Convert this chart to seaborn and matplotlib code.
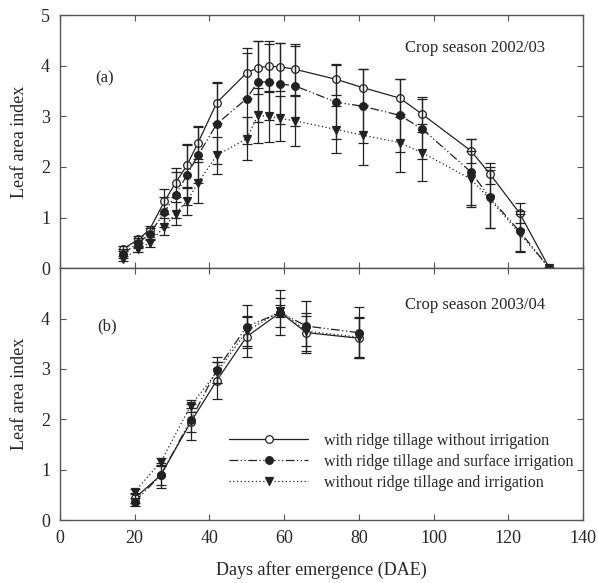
import numpy as np
import pandas as pd
import matplotlib
matplotlib.use("Agg")
import matplotlib.pyplot as plt
import seaborn as sns

# Crop season 2002/03 (panel a)
dae_a = [17, 21, 24, 28, 31, 34, 37, 42, 50, 53, 56, 59, 63, 74, 81, 91, 97, 110, 115, 123, 131]
lai_a_ridge = [0.38, 0.57, 0.76, 1.32, 1.69, 2.03, 2.48, 3.27, 3.86, 3.96, 3.99, 3.98, 3.93, 3.73, 3.57, 3.36, 3.04, 2.32, 1.87, 1.09, 0.0]
err_a_ridge = [0.05, 0.07, 0.08, 0.25, 0.28, 0.42, 0.32, 0.40, 0.50, 0.52, 0.50, 0.47, 0.50, 0.30, 0.36, 0.37, 0.35, 0.24, 0.20, 0.19, 0.0]
lai_a_irr = [0.29, 0.50, 0.67, 1.11, 1.45, 1.84, 2.23, 2.85, 3.35, 3.68, 3.68, 3.64, 3.60, 3.28, 3.20, 3.02, 2.75, 1.90, 1.40, 0.73, 0.0]
err_a_irr = [0.08, 0.10, 0.12, 0.30, 0.45, 0.60, 0.55, 0.80, 0.90, 0.80, 0.75, 0.80, 0.80, 0.73, 0.73, 0.72, 0.60, 0.66, 0.60, 0.40, 0.0]
lai_a_none = [0.19, 0.37, 0.50, 0.82, 1.08, 1.32, 1.69, 2.23, 2.56, 3.02, 3.00, 2.96, 2.91, 2.74, 2.63, 2.48, 2.28, 1.76, 1.37, 0.69, 0.0]
err_a_none = [0.05, 0.05, 0.08, 0.17, 0.23, 0.27, 0.40, 0.36, 0.42, 0.55, 0.50, 0.45, 0.50, 0.47, 0.60, 0.57, 0.56, 0.55, 0.57, 0.38, 0.0]

# Crop season 2003/04 (panel b)
dae_b = [20, 27, 35, 42, 50, 59, 66, 80]
lai_b_ridge = [0.43, 0.89, 1.94, 2.77, 3.64, 4.12, 3.72, 3.61]
err_b_ridge = [0.10, 0.25, 0.36, 0.36, 0.40, 0.45, 0.40, 0.40]
lai_b_irr = [0.36, 0.89, 1.98, 2.98, 3.84, 4.12, 3.85, 3.72]
err_b_irr = [0.08, 0.20, 0.24, 0.26, 0.42, 0.28, 0.50, 0.50]
lai_b_none = [0.56, 1.15, 2.27, 2.93, 3.75, 4.15, 3.75, 3.63]
err_b_none = [0.05, 0.08, 0.12, 0.20, 0.30, 0.12, 0.30, 0.40]

labels = ["with ridge tillage without irrigation",
          "with ridge tillage and surface irrigation",
          "without ridge tillage and irrigation"]

sns.set_style("ticks")
plt.rcParams['font.family'] = ['Liberation Serif', 'DejaVu Serif']

fig = plt.figure(figsize=(5.98, 5.83), dpi=100)
ax_a = fig.add_axes([0.100, 0.540, 0.875, 0.434])
ax_b = fig.add_axes([0.100, 0.108, 0.875, 0.432])

line_col = "#222222"
styles = [
    dict(marker="o", mfc="white", dashes=None),
    dict(marker="o", mfc=line_col, dashes=(7, 2, 1, 2, 1, 2)),
    dict(marker="v", mfc=line_col, dashes=(1, 2)),
]


def draw_panel(ax, x, series, errs):
    for lai, err, lab, st in zip(series, errs, labels, styles):
        df = pd.DataFrame({"DAE": x, "LAI": lai})
        sns.lineplot(data=df, x="DAE", y="LAI", ax=ax, color=line_col, lw=0.9,
                     marker=st["marker"], markersize=5.5, markerfacecolor=st["mfc"],
                     markeredgecolor=line_col, markeredgewidth=0.9,
                     label=lab, legend=False)
        if st["dashes"] is not None:
            ax.lines[-1].set_dashes(st["dashes"])
        ax.errorbar(x, lai, yerr=err, fmt="none", ecolor=line_col, elinewidth=0.9,
                    capsize=3.5, capthick=0.9)
    ax.set_xlim(0, 140)
    ax.set_ylim(0, 5)
    ax.set_ylabel("Leaf area index", fontsize=13, labelpad=9)
    ax.tick_params(direction="in", top=True, right=True, labelsize=13,
                   color="#555555", length=4, pad=7)
    for sp in ax.spines.values():
        sp.set_color("#555555")
        sp.set_linewidth(1.0)


draw_panel(ax_a, dae_a, [lai_a_ridge, lai_a_irr, lai_a_none],
           [err_a_ridge, err_a_irr, err_a_none])
draw_panel(ax_b, dae_b, [lai_b_ridge, lai_b_irr, lai_b_none],
           [err_b_ridge, err_b_irr, err_b_none])

ax_a.set_xticks(np.arange(0, 141, 20))
ax_a.set_xticklabels([])
ax_a.set_xlabel("")
ax_a.set_yticks(np.arange(0, 6, 1))
ax_b.set_xticks(np.arange(0, 141, 20))
ax_b.set_yticks(np.arange(0, 5, 1))
ax_b.set_xlabel("Days after emergence (DAE)", fontsize=13, labelpad=10)

ax_a.text(0.068, 0.752, "(a)", transform=ax_a.transAxes, fontsize=12, va="center")
ax_a.text(0.66, 0.87, "Crop season 2002/03", transform=ax_a.transAxes, fontsize=12, va="center")
ax_b.text(0.072, 0.767, "(b)", transform=ax_b.transAxes, fontsize=12, va="center")
ax_b.text(0.66, 0.853, "Crop season 2003/04", transform=ax_b.transAxes, fontsize=12, va="center")

handles = [l for l in ax_b.lines if l.get_label() in labels]
ax_b.legend(handles=handles, labels=labels, loc="lower right",
            bbox_to_anchor=(1.01, 0.06), frameon=False, fontsize=11.5,
            handlelength=5.0, handletextpad=1.0, labelspacing=0.3)

fig.savefig("out.png", dpi=100)
